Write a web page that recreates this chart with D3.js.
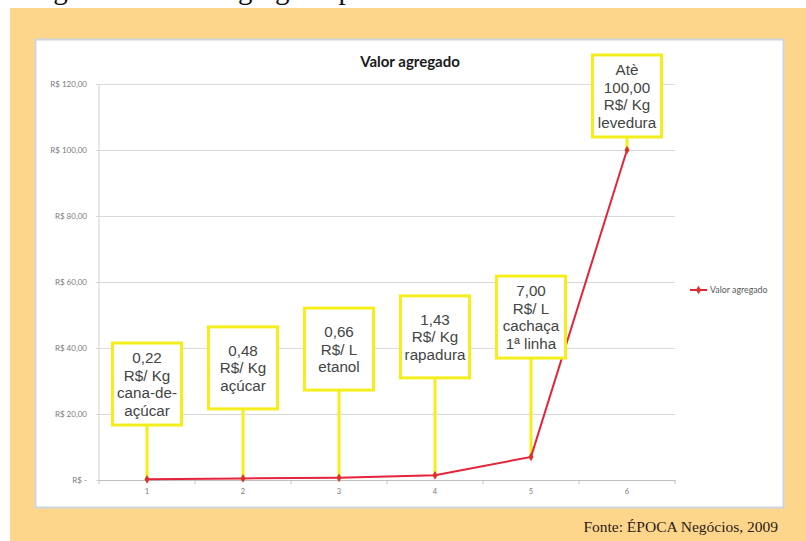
<!DOCTYPE html>
<html>
<head>
<meta charset="utf-8">
<script src="https://cdn.jsdelivr.net/npm/d3@7"></script>
<style>
  html, body { margin: 0; padding: 0; background: #ffffff; }
  svg { display: block; }
</style>
</head>
<body>
<svg id="chart" width="806" height="541"></svg>
<script>
// Series: value added per cane derivative (R$ per unit)
const categories = ["1", "2", "3", "4", "5", "6"];
const values = [0.22, 0.48, 0.66, 1.43, 7.00, 100.00];
const units = ["R$/ Kg", "R$/ Kg", "R$/ L", "R$/ Kg", "R$/ L", "R$/ Kg"];
const products = [["cana-de-", "açúcar"], ["açúcar"], ["etanol"], ["rapadura"], ["cachaça", "1ª linha"], ["levedura"]];
const prefixes = ["", "", "", "", "", "Atè"];
const yTicks = [0, 20, 40, 60, 80, 100, 120];
const seriesName = "Valor agregado";
const chartTitle = "Valor agregado";
const source = "Fonte: ÉPOCA Negócios, 2009";
const caption = "Figura 2 – Valor agregado por derivado";

// Callout box tops, expressed on the value axis
const calloutTop = [41.5, 46.4, 52.1, 55.8, 61.8, 128.8];

const svg = d3.select("#chart");

// Page caption (only its descenders show above the panel)
svg.append("text")
  .attr("x", 29).attr("y", -1)
  .attr("font-family", "Liberation Serif, Times New Roman, serif")
  .attr("font-size", 29)
  .attr("fill", "#111")
  .text(caption);

// Orange panel
svg.append("rect")
  .attr("x", 10).attr("y", 8).attr("width", 796).attr("height", 533)
  .attr("fill", "#fdd68b");

// White chart card
svg.append("rect")
  .attr("x", 35.5).attr("y", 39.5).attr("width", 748).attr("height", 468)
  .attr("fill", "#ffffff")
  .attr("stroke", "#cdd5de").attr("stroke-width", 2);

// Source line
svg.append("text")
  .attr("x", 778).attr("y", 532)
  .attr("text-anchor", "end")
  .attr("font-family", "Liberation Serif, Times New Roman, serif")
  .attr("font-size", 15.5)
  .attr("fill", "#2b2118")
  .text(source);

const plot = { left: 99, right: 675, top: 84, bottom: 480 };

const x = d3.scaleBand().domain(categories).range([plot.left, plot.right]).paddingInner(0).paddingOuter(0);
const y = d3.scaleLinear().domain([0, 120]).range([plot.bottom, plot.top]);
const cx = d => x(d) + x.bandwidth() / 2;

const fmt = v => v === 0 ? "R$ -" : "R$ " + d3.format(",.2f")(v).replace(/,/g, "#").replace(".", ",").replace(/#/g, ".");

// Gridlines + y axis labels
const yAxis = d3.axisLeft(y).tickValues(yTicks).tickSize(0).tickFormat(fmt).tickPadding(9);
const gy = svg.append("g").attr("transform", `translate(${plot.left - 3},0)`).call(yAxis);
gy.select(".domain").remove();
gy.selectAll(".tick line")
  .attr("x1", 0).attr("x2", plot.right - plot.left + 3)
  .attr("stroke", "#d9d9d9").attr("stroke-width", 1);
gy.selectAll(".tick text")
  .attr("font-family", "Lato, Liberation Sans, sans-serif")
  .attr("font-size", 8)
  .attr("fill", "#7a7a7a");

// Vertical axis line
svg.append("line")
  .attr("x1", plot.left).attr("x2", plot.left)
  .attr("y1", y(120)).attr("y2", y(0))
  .attr("stroke", "#d0d0d0");

// X axis with ticks at category boundaries
const gx = svg.append("g").attr("transform", `translate(0,${plot.bottom})`)
  .call(d3.axisBottom(x).tickSize(0).tickPadding(9));
gx.select(".domain").attr("stroke", "#bfbfbf");
gx.selectAll(".tick text")
  .attr("font-family", "Lato, Liberation Sans, sans-serif")
  .attr("font-size", 7.5)
  .attr("fill", "#7a7a7a");
const bounds = categories.map(c => x(c)).concat([x(categories[categories.length - 1]) + x.bandwidth()]);
gx.selectAll(".bound").data(bounds).enter().append("line")
  .attr("x1", d => d).attr("x2", d => d).attr("y1", 0).attr("y2", 4)
  .attr("stroke", "#bfbfbf");

// Title
svg.append("text")
  .attr("x", 410).attr("y", 67)
  .attr("text-anchor", "middle")
  .attr("font-family", "Lato, Liberation Sans, sans-serif")
  .attr("font-weight", "bold")
  .attr("font-size", 15)
  .attr("fill", "#1a1a1a")
  .text(chartTitle);

// Callouts: stems first, then the series on top
const yellow = "#f6ee1c";
const boxW = 69, boxH = 82, lineH = 17.6;
const callouts = categories.map((c, i) => {
  const lines = [];
  if (prefixes[i]) lines.push(prefixes[i]);
  lines.push(d3.format(".2f")(values[i]).replace(".", ","));
  lines.push(units[i]);
  products[i].forEach(p => lines.push(p));
  return { c, i, lines, top: y(calloutTop[i]) };
});

svg.selectAll(".stem").data(callouts).enter().append("line")
  .attr("x1", d => cx(d.c)).attr("x2", d => cx(d.c))
  .attr("y1", d => d.top + boxH).attr("y2", d => y(values[d.i]))
  .attr("stroke", yellow).attr("stroke-width", 3);

// Series line and markers
const line = d3.line().x((d, i) => cx(categories[i])).y(d => y(d));
svg.append("path").datum(values)
  .attr("d", line)
  .attr("fill", "none")
  .attr("stroke", "#e5233a")
  .attr("stroke-width", 2);

const diamond = d3.symbol().type(d3.symbolDiamond).size(22);
svg.selectAll(".pt").data(values).enter().append("path")
  .attr("d", diamond)
  .attr("transform", (d, i) => `translate(${cx(categories[i])},${y(d)})`)
  .attr("fill", "#d8352a");

// Callout boxes
const cg = svg.selectAll(".callout").data(callouts).enter().append("g")
  .attr("transform", d => `translate(${cx(d.c) - boxW / 2},${d.top})`);
cg.append("rect")
  .attr("width", boxW).attr("height", boxH)
  .attr("fill", "#ffffff")
  .attr("stroke", yellow).attr("stroke-width", 3);
cg.each(function (d) {
  const g = d3.select(this);
  const first = boxH / 2 - (d.lines.length - 1) * lineH / 2;
  d.lines.forEach((t, k) => {
    g.append("text")
      .attr("x", boxW / 2)
      .attr("y", first + k * lineH)
      .attr("dy", "0.36em")
      .attr("text-anchor", "middle")
      .attr("font-family", "Liberation Sans, Arial, sans-serif")
      .attr("font-size", 15.2)
      .attr("fill", "#444444")
      .text(t);
  });
});

// Legend
const lg = svg.append("g").attr("transform", "translate(690,290)");
lg.append("line").attr("x1", 0).attr("x2", 17).attr("stroke", "#e5233a").attr("stroke-width", 2);
lg.append("path").attr("d", diamond).attr("transform", "translate(8.5,0)").attr("fill", "#d8352a");
lg.append("text")
  .attr("x", 20).attr("y", 0).attr("dy", "0.35em")
  .attr("font-family", "Lato, Liberation Sans, sans-serif")
  .attr("font-size", 8.8)
  .attr("fill", "#595959")
  .text(seriesName);
</script>
</body>
</html>
